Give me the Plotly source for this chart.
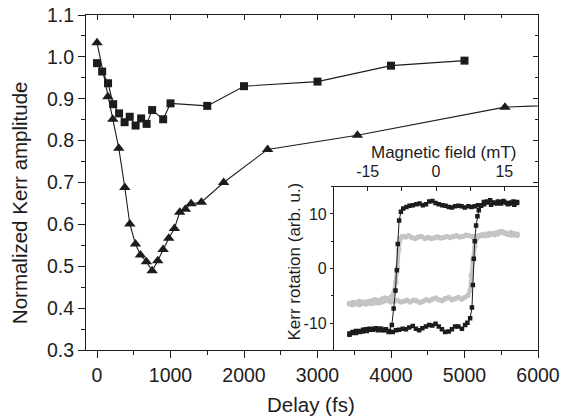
import plotly.graph_objects as go

# ---------------- main data ----------------
sq_delay = [0, 70, 150, 220, 300, 375, 445, 525, 600, 675, 750, 900, 1000, 1500, 2000, 3000, 4000, 5000]
sq_amp = [0.985, 0.965, 0.937, 0.887, 0.865, 0.844, 0.857, 0.836, 0.853, 0.840, 0.873, 0.851, 0.889,
          0.883, 0.930, 0.941, 0.979, 0.991]

tri_delay = [0, 147, 215, 296, 378, 446, 523, 591, 672, 750, 826, 899, 976, 1053, 1125, 1202, 1280,
             1420, 1723, 2321, 3543, 5550, 7000]
tri_amp = [1.034, 0.905, 0.851, 0.782, 0.688, 0.601, 0.553, 0.527, 0.511, 0.489, 0.513, 0.540, 0.567,
           0.590, 0.629, 0.636, 0.649, 0.653, 0.700, 0.779, 0.813, 0.880, 0.890]

x_ticks = [0, 1000, 2000, 3000, 4000, 5000, 6000]
x_ticklabels = ["0", "1000", "2000", "3000", "4000", "5000", "6000"]
y_ticks = [0.3, 0.4, 0.5, 0.6, 0.7, 0.8, 0.9, 1.0, 1.1]
y_ticklabels = ["0.3", "0.4", "0.5", "0.6", "0.7", "0.8", "0.9", "1.0", "1.1"]

# ---------------- inset data (hysteresis loops) ----------------
blk_up_field = [-19.0, -18.3, -17.6, -16.8, -16.1, -15.4, -14.6, -13.9, -13.2, -12.5, -11.8, -11.0, -10.3,
                -9.5, -8.8, -8.1, -7.3, -6.6, -5.9, -5.1, -4.4, -3.7, -3.0, -2.2, -1.5, -0.8, -0.1, 0.6,
                1.3, 2.0, 2.8, 3.5, 4.2, 4.9, 5.7, 6.4, 6.9, 7.5, 7.9, 8.1, 8.3, 8.5, 8.8, 9.1, 9.4, 9.9,
                10.5, 11.2, 11.9, 12.6, 13.4, 14.1, 14.8, 15.5, 16.3, 17.0, 17.8]
blk_up_kerr = [-11.9, -11.6, -11.8, -11.4, -11.5, -11.1, -11.0, -11.2, -10.9, -11.0, -11.3, -11.1, -11.4,
               -11.6, -11.3, -11.2, -11.0, -11.1, -10.8, -10.5, -11.0, -11.3, -10.9, -10.6, -10.3, -10.4,
               -10.1, -10.6, -11.1, -11.6, -11.5, -11.1, -10.6, -10.6, -11.0, -10.3, -9.9, -9.1, -7.1,
               -3.0, 1.8, 5.0, 7.9, 9.6, 10.7, 11.6, 12.2, 12.3, 12.5, 12.1, 11.9, 12.2, 12.4, 12.0,
               11.9, 12.3, 12.2]
blk_dn_field = [17.8, 17.2, 16.5, 15.8, 15.0, 14.3, 13.6, 12.8, 12.1, 11.4, 10.6, 9.9, 9.2, 8.5, 7.8, 7.1,
                6.3, 5.6, 4.9, 4.2, 3.5, 2.8, 2.1, 1.4, 0.6, -0.1, -0.8, -1.5, -2.2, -2.9, -3.6, -4.3,
                -5.1, -5.8, -6.5, -7.2, -7.7, -8.1, -8.4, -8.6, -8.9, -9.3, -9.7, -10.4, -11.2, -12.0,
                -12.8, -13.6, -14.4, -15.2, -16.0, -16.8, -17.6, -18.4, -19.0]
blk_dn_kerr = [12.0, 11.7, 12.1, 11.8, 12.2, 11.9, 12.3, 12.0, 11.7, 12.1, 11.8, 11.5, 11.6, 11.4, 11.3,
               11.4, 11.2, 11.4, 11.5, 11.4, 11.2, 11.3, 11.5, 11.6, 11.8, 12.0, 12.4, 12.3, 11.8, 11.6,
               11.9, 11.8, 11.6, 11.5, 11.3, 11.0, 10.4, 8.8, 4.5, -0.3, -4.0, -7.3, -10.3, -11.6,
               -11.3, -11.0, -11.3, -11.0, -11.2, -11.4, -11.2, -11.6, -11.4, -11.8, -12.1]

gry_up_field = [-19.0, -18.3, -17.6, -16.9, -16.2, -15.5, -14.8, -14.1, -13.4, -12.7, -12.0, -11.3, -10.6,
                -9.9, -9.2, -8.5, -7.8, -7.1, -6.4, -5.7, -5.0, -4.3, -3.6, -2.9, -2.2, -1.5, -0.8,
                -0.1, 0.6, 1.3, 2.0, 2.8, 3.5, 4.2, 4.9, 5.6, 6.3, 7.0, 7.5, 7.75, 8.1, 8.5, 9.0, 9.6,
                10.3, 11.0, 11.7, 12.4, 13.1, 13.8, 14.5, 15.2, 15.9, 16.6, 17.2, 17.8]
gry_up_kerr = [-6.4, -6.2, -6.3, -6.0, -6.1, -6.2, -6.0, -5.9, -5.7, -5.9, -5.6, -5.4, -5.8, -6.1, -6.0,
               -5.8, -6.1, -6.0, -5.8, -6.1, -5.8, -5.9, -6.2, -6.0, -5.7, -5.9, -5.6, -5.4, -5.7, -5.9,
               -5.5, -5.3, -5.7, -5.5, -5.3, -5.6, -5.3, -4.9, -4.0, -1.2, 1.5, 4.0, 5.6, 6.0, 6.1,
               6.3, 6.4, 6.3, 6.5, 6.7, 6.8, 6.5, 6.3, 6.1, 6.2, 6.3]
gry_dn_field = [17.8, 17.1, 16.4, 15.7, 15.0, 14.3, 13.6, 12.9, 12.2, 11.5, 10.8, 10.1, 9.4, 8.7, 8.0, 7.3,
                6.6, 5.9, 5.2, 4.5, 3.8, 3.1, 2.4, 1.7, 1.0, 0.3, -0.4, -1.1, -1.8, -2.5, -3.2, -3.9,
                -4.6, -5.3, -6.0, -6.7, -7.4, -7.9, -8.2, -8.5, -8.8, -9.2, -9.8, -10.5, -11.2, -11.9,
                -12.6, -13.3, -14.0, -14.7, -15.4, -16.1, -16.8, -17.5, -18.2, -19.0]
gry_dn_kerr = [6.1, 6.4, 6.6, 6.3, 6.5, 6.7, 6.4, 6.2, 6.4, 6.1, 6.0, 6.2, 6.0, 5.8, 5.9, 6.0, 6.1, 5.9,
               5.8, 6.0, 5.9, 5.7, 5.9, 5.7, 5.6, 5.8, 5.6, 5.5, 5.7, 5.5, 5.9, 5.8, 5.5, 5.7, 6.0, 5.8,
               5.9, 5.4, 3.5, 0.0, -2.5, -4.3, -5.2, -5.5, -5.9, -6.1, -6.3, -6.2, -6.4, -6.3, -6.5,
               -6.4, -6.6, -6.4, -6.6, -6.5]

ins_x_ticks = [-15, 0, 15]
ins_x_ticklabels = ["-15", "0", "15"]
ins_y_ticks = [-10, 0, 10]
ins_y_ticklabels = ["-10", "0", "10"]

FONT = "Liberation Sans, Arial, Helvetica, sans-serif"
INK = "#1c1c1c"
GRAY = "#c4c4c4"

fig = go.Figure()

# gray loop
fig.add_trace(go.Scatter(x=gry_up_field + gry_dn_field, y=gry_up_kerr + gry_dn_kerr,
                         xaxis="x3", yaxis="y3", mode="lines+markers",
                         line=dict(color=GRAY, width=4),
                         marker=dict(symbol="circle", size=5.5, color=GRAY),
                         showlegend=False, hoverinfo="skip"))
# black loop
fig.add_trace(go.Scatter(x=blk_up_field + blk_dn_field, y=blk_up_kerr + blk_dn_kerr,
                         xaxis="x3", yaxis="y3", mode="lines+markers",
                         line=dict(color=INK, width=1),
                         marker=dict(symbol="square", size=4.5, color=INK),
                         showlegend=False, hoverinfo="skip"))

# main series
fig.add_trace(go.Scatter(x=sq_delay, y=sq_amp, mode="lines+markers",
                         line=dict(color=INK, width=1.1),
                         marker=dict(symbol="square", size=8, color=INK),
                         showlegend=False))
fig.add_trace(go.Scatter(x=tri_delay, y=tri_amp, mode="lines+markers",
                         line=dict(color=INK, width=1.1),
                         marker=dict(symbol="triangle-up", size=10, color=INK),
                         showlegend=False))

# helper trace for mirrored (inside-tick) axes on top and right
fig.add_trace(go.Scatter(x=[sq_delay[0]], y=[sq_amp[0]], xaxis="x2", yaxis="y2", mode="markers",
                         marker=dict(opacity=0), showlegend=False, hoverinfo="skip"))

tickfont = dict(family=FONT, size=19.5, color=INK)
insfont = dict(family=FONT, size=16, color=INK)
axline = dict(showline=True, linecolor=INK, linewidth=1.2, showgrid=False, zeroline=False,
              automargin=False)

fig.update_layout(
    width=561, height=420,
    margin=dict(l=86, r=23, t=15, b=70, autoexpand=False),
    paper_bgcolor="white", plot_bgcolor="white",
    font=dict(family=FONT, color=INK),
    xaxis=dict(domain=[0, 1], range=[-150, 6000], tickvals=x_ticks, ticktext=x_ticklabels,
               ticks="outside", ticklen=7, tickwidth=1.2, tickcolor=INK, tickfont=tickfont,
               minor=dict(dtick=500, tick0=0, ticks="outside", ticklen=4, tickwidth=1, tickcolor=INK),
               **axline),
    yaxis=dict(domain=[0, 1], range=[0.3, 1.1], tickvals=y_ticks, ticktext=y_ticklabels,
               ticks="outside", ticklen=7, tickwidth=1.2, tickcolor=INK, tickfont=tickfont,
               minor=dict(dtick=0.05, tick0=0.3, ticks="outside", ticklen=4, tickwidth=1, tickcolor=INK),
               **axline),
    xaxis2=dict(overlaying="x", side="top", range=[-150, 6000], tickvals=x_ticks,
                showticklabels=False, ticks="inside", ticklen=5, tickwidth=1, tickcolor=INK,
                minor=dict(dtick=500, tick0=0, ticks="inside", ticklen=3, tickcolor=INK),
                **axline),
    yaxis2=dict(overlaying="y", side="right", range=[0.3, 1.1], tickvals=y_ticks,
                showticklabels=False, ticks="inside", ticklen=5, tickwidth=1, tickcolor=INK,
                minor=dict(dtick=0.05, tick0=0.3, ticks="inside", ticklen=3, tickcolor=INK),
                **axline),
    xaxis3=dict(domain=[0.5487, 1.0], anchor="y3", side="top", range=[-22.4, 22.4],
                tickvals=ins_x_ticks, ticktext=ins_x_ticklabels, ticks="inside", ticklen=4,
                tickwidth=1, tickcolor=INK, tickfont=insfont, ticklabelstandoff=2,
                minor=dict(dtick=7.5, tick0=0, ticks="inside", ticklen=4, tickcolor=INK),
                mirror=True, **axline),
    yaxis3=dict(domain=[0, 0.4875], anchor="x3", range=[-14.9, 15.0],
                tickvals=ins_y_ticks, ticktext=ins_y_ticklabels, ticks="outside", ticklen=3,
                tickwidth=1, tickcolor=INK, tickfont=insfont,
                minor=dict(dtick=5, tick0=0, ticks="outside", ticklen=2, tickcolor=INK),
                mirror=True, **axline),
    annotations=[
        dict(text="Normalized Kerr amplitude", xref="paper", yref="paper", x=-0.147, y=0.44,
             textangle=-90, showarrow=False, font=dict(family=FONT, size=20.5, color=INK),
             xanchor="center", yanchor="middle"),
        dict(text="Delay (fs)", xref="paper", yref="paper", x=0.498, y=-0.164,
             showarrow=False, font=dict(family=FONT, size=20.5, color=INK),
             xanchor="center", yanchor="middle"),
        dict(text="Magnetic field (mT)", xref="paper", yref="paper", x=0.79, y=0.59,
             showarrow=False, font=dict(family=FONT, size=17, color=INK),
             xanchor="center", yanchor="middle"),
        dict(text="Kerr rotation (arb. u.)", xref="paper", yref="paper", x=0.462, y=0.2636,
             textangle=-90, showarrow=False, font=dict(family=FONT, size=17, color=INK),
             xanchor="center", yanchor="middle"),
    ],
)

fig.write_html("out.html", config={"displayModeBar": False},
               post_script="document.body.style.margin='0';document.body.style.padding='0';")
